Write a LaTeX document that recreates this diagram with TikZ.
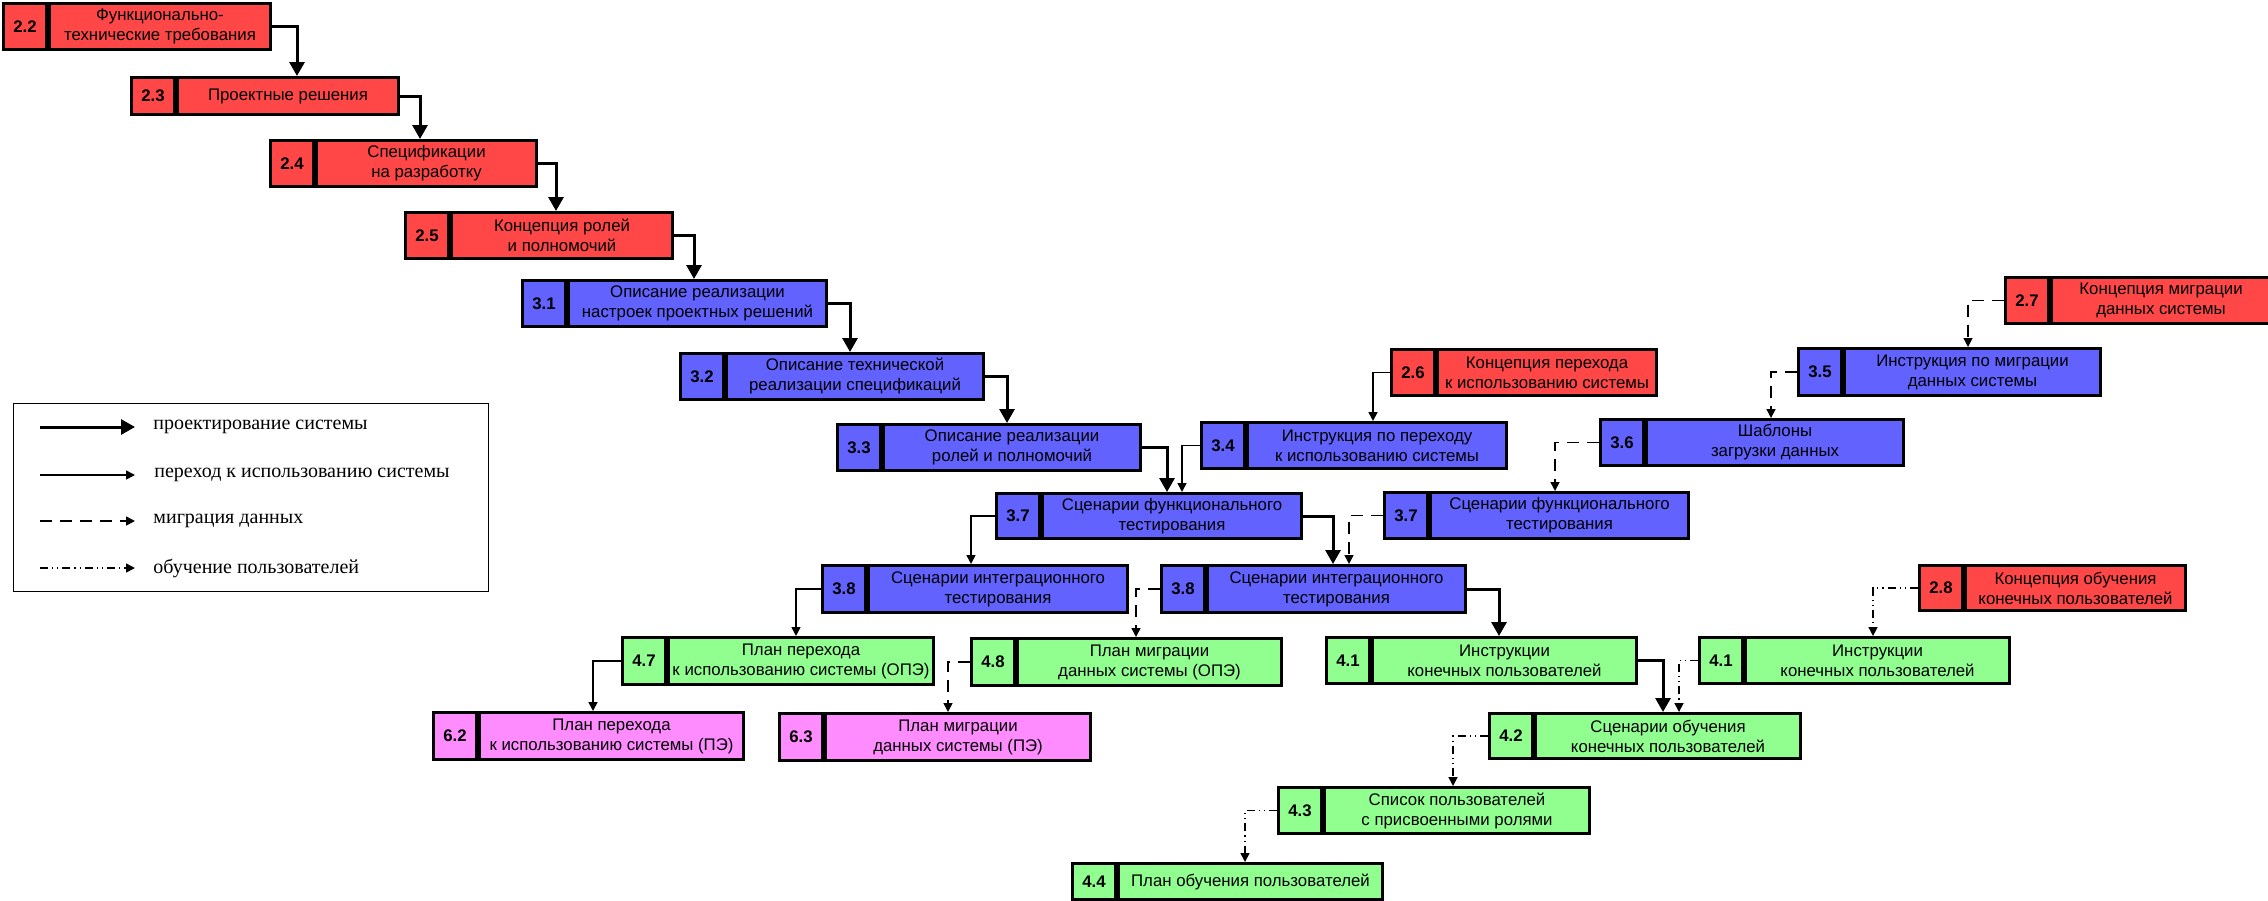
\documentclass[tikz,border=0pt]{standalone}
\usepackage{fontspec}
\setmainfont{Liberation Serif}
\newfontfamily\boxfont{Liberation Sans}
\usetikzlibrary{arrows.meta,calc}
\definecolor{cred}{HTML}{FF4747}
\definecolor{cblue}{HTML}{6262FF}
\definecolor{cgreen}{HTML}{90FF90}
\definecolor{cpink}{HTML}{FF8CFF}
\tikzset{
  cell/.style={draw=black, line width=1.5pt, inner sep=0pt, anchor=north west,
    font=\boxfont\fontsize{8.4}{10}\selectfont, align=center},
  numcell/.style={cell, font=\boxfont\bfseries\fontsize{8.4}{10}\selectfont},
  design/.style={line width=1.5pt, -{Triangle[length=7pt,width=7.5pt]}},
  trans/.style={line width=0.8pt, -{Triangle[length=4.5pt,width=4.5pt]}},
  migr/.style={trans, dash pattern=on 6pt off 4pt},
  train/.style={trans, dash pattern=on 4pt off 2pt on 0.6pt off 2pt on 0.6pt off 2pt},
  legtxt/.style={anchor=west, inner sep=0pt, font=\fontsize{10}{12}\selectfont},
}
% name, left, top, width, height, colour, number, text
\newcommand{\bx}[8]{%
  \node[numcell, fill=#6, minimum width=21.5pt, minimum height=#5*0.5pt] (#1n) at (#2,#3) {#7};
  \node[cell, fill=#6, minimum width=(#4-43)*0.5pt, minimum height=#5*0.5pt] (#1) at (#1n.north east) {#8};
}
\begin{document}
\begin{tikzpicture}[x=0.5pt,y=-0.5pt]
\fill[white] (0,0) rectangle (2268,900);
\useasboundingbox (0,0) rectangle (2268,900);

\bx{b22}{2}{2}{264}{46}{cred}{2.2}{Функционально-\\технические требования}
\bx{b23}{130}{76}{264}{37}{cred}{2.3}{Проектные решения}
\bx{b24}{269}{139}{263}{46}{cred}{2.4}{Спецификации\\на разработку}
\bx{b25}{404}{211}{264}{46}{cred}{2.5}{Концепция ролей\\и полномочий}
\bx{b31}{521}{279}{301}{46}{cblue}{3.1}{Описание реализации\\настроек проектных решений}
\bx{b32}{679}{352}{300}{46}{cblue}{3.2}{Описание технической\\реализации спецификаций}
\bx{b33}{836}{423}{300}{46}{cblue}{3.3}{Описание реализации\\ролей и полномочий}
\bx{b37L}{995}{492}{302}{45}{cblue}{3.7}{Сценарии функционального\\тестирования}
\bx{b38L}{821}{564}{302}{47}{cblue}{3.8}{Сценарии интеграционного\\тестирования}
\bx{b47}{621}{636}{308}{47}{cgreen}{4.7}{План перехода\\к использованию системы (ОПЭ)}
\bx{b48}{970}{637}{307}{47}{cgreen}{4.8}{План миграции\\данных системы (ОПЭ)}
\bx{b62}{432}{711}{307}{47}{cpink}{6.2}{План перехода\\к использованию системы (ПЭ)}
\bx{b63}{778}{712}{308}{47}{cpink}{6.3}{План миграции\\данных системы (ПЭ)}
\bx{b26}{1390}{348}{262}{46}{cred}{2.6}{Концепция перехода\\к использованию системы}
\bx{b34}{1200}{421}{302}{46}{cblue}{3.4}{Инструкция по переходу\\к использованию системы}
\bx{b27}{2004}{276}{262}{46}{cred}{2.7}{Концепция миграции\\данных системы}
\bx{b35}{1797}{347}{299}{47}{cblue}{3.5}{Инструкция по миграции\\данных системы}
\bx{b36}{1599}{418}{300}{46}{cblue}{3.6}{Шаблоны\\загрузки данных}
\bx{b37R}{1383}{491}{301}{46}{cblue}{3.7}{Сценарии функционального\\тестирования}
\bx{b38R}{1160}{564}{301}{47}{cblue}{3.8}{Сценарии интеграционного\\тестирования}
\bx{b41L}{1325}{636}{307}{46}{cgreen}{4.1}{Инструкции\\конечных пользователей}
\bx{b41R}{1698}{636}{307}{46}{cgreen}{4.1}{Инструкции\\конечных пользователей}
\bx{b28}{1918}{564}{263}{45}{cred}{2.8}{Концепция обучения\\конечных пользователей}
\bx{b42}{1488}{712}{308}{45}{cgreen}{4.2}{Сценарии обучения\\конечных пользователей}
\bx{b43}{1277}{786}{308}{46}{cgreen}{4.3}{Список пользователей\\с присвоенными ролями}
\bx{b44}{1071}{862}{307}{36}{cgreen}{4.4}{План обучения пользователей}

% system design
\draw[design] (b22.east) -| ($(b23n.north west)+(167,0)$);
\draw[design] (b23.east) -| ($(b24n.north west)+(151,0)$);
\draw[design] (b24.east) -| ($(b25n.north west)+(152,0)$);
\draw[design] (b25.east) -| ($(b31n.north west)+(173,0)$);
\draw[design] (b31.east) -| ($(b32n.north west)+(171,0)$);
\draw[design] (b32.east) -| ($(b33n.north west)+(171,0)$);
\draw[design] (b33.east) -| ($(b37Ln.north west)+(172,0)$);
\draw[design] (b37L.east) -| ($(b38Rn.north west)+(173,0)$);
\draw[design] (b38R.east) -| ($(b41Ln.north west)+(174,0)$);
\draw[design] (b41L.east) -| ($(b42n.north west)+(175,0)$);

% transition to use
\draw[trans] (b26n.west) -| ($(b34n.north west)+(173,0)$);
\draw[trans] (b34n.west) -| ($(b37Ln.north west)+(187,0)$);
\draw[trans] (b37Ln.west) -| ($(b38Ln.north west)+(150,0)$);
\draw[trans] (b38Ln.west) -| ($(b47n.north west)+(175,0)$);
\draw[trans] (b47n.west) -| ($(b62n.north west)+(161,0)$);

% data migration
\draw[migr] (b27n.west) -| ($(b35n.north west)+(171,0)$);
\draw[migr] (b35n.west) -| ($(b36n.north west)+(172,0)$);
\draw[migr] (b36n.west) -| ($(b37Rn.north west)+(172,0)$);
\draw[migr] (b37Rn.west) -| ($(b38Rn.north west)+(189,0)$);
\draw[migr] (b38Rn.west) -| ($(b48n.north west)+(166,0)$);
\draw[migr] (b48n.west) -| ($(b63n.north west)+(170,0)$);

% user training
\draw[train] (b28n.west) -| ($(b41Rn.north west)+(175,0)$);
\draw[train] (b41Rn.west) -| ($(b42n.north west)+(191,0)$);
\draw[train] (b42n.west) -| ($(b43n.north west)+(176,0)$);
\draw[train] (b43n.west) -| ($(b44n.north west)+(174,0)$);

% legend
\node[draw=black, line width=0.6pt, inner sep=0pt, anchor=north west,
      minimum width=237.5pt, minimum height=94pt] (legend) at (13,403) {};
\coordinate (l1a) at (40,427); \coordinate (l1b) at (135,427);
\coordinate (l2a) at (40,475); \coordinate (l2b) at (135,475);
\coordinate (l3a) at (40,521); \coordinate (l3b) at (135,521);
\coordinate (l4a) at (40,568); \coordinate (l4b) at (135,568);
\draw[design] (l1a) -- (l1b);
\draw[trans] (l2a) -- (l2b);
\draw[migr] (l3a) -- (l3b);
\draw[train] (l4a) -- (l4b);
\node[legtxt] (t1) at (153,427) {проектирование системы};
\node[legtxt] (t2) at (154,475) {переход к использованию системы};
\node[legtxt] (t3) at (153,521) {миграция данных};
\node[legtxt] (t4) at (153,568) {обучение пользователей};
\end{tikzpicture}
\end{document}
